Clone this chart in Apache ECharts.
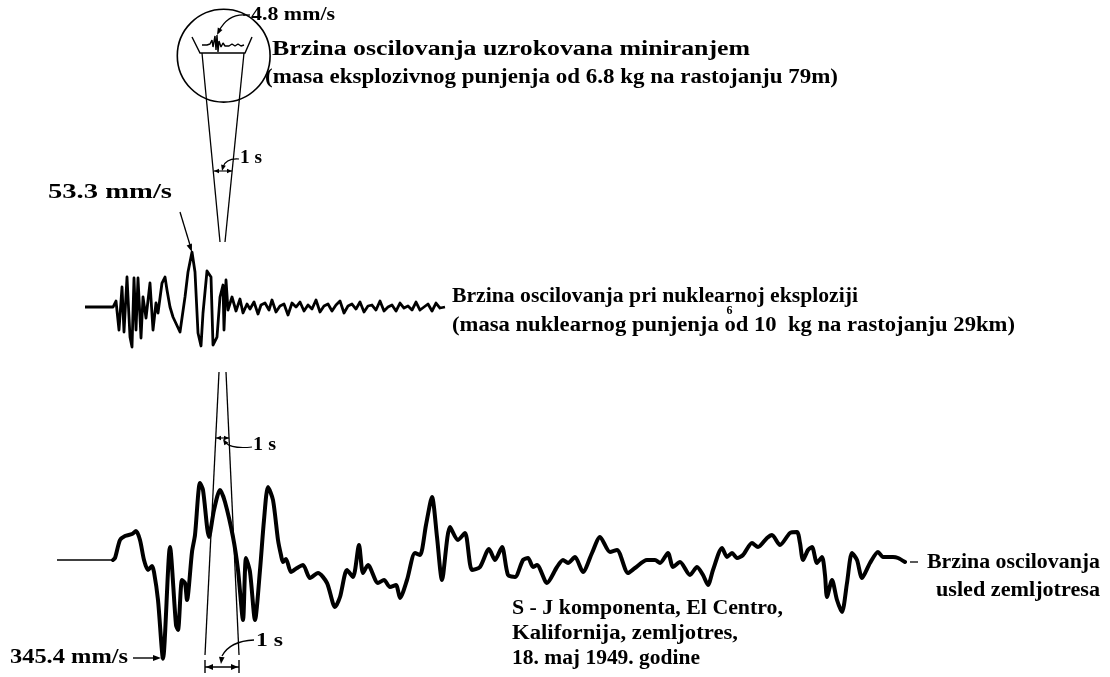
<!DOCTYPE html>
<html><head><meta charset="utf-8">
<script src="https://cdn.jsdelivr.net/npm/echarts@6/dist/echarts.min.js"></script>
<style>html,body{margin:0;padding:0;background:#fff}#c{width:1110px;height:677px}</style>
</head><body><div id="c"></div>
<script>
// ---------- DATA ----------
// Blasting (mining) record, magnified view inside the circle: time (s), velocity (mm/s)
const miningTime = [0, 0.25, 0.40, 0.50, 0.55, 0.65, 0.70, 0.75, 0.80, 0.85, 0.95, 1.05, 1.15, 1.25, 1.35, 1.50, 1.65, 1.80, 1.95, 2.10];
const miningVel  = [0, 0, 0.48, 2.4, -0.96, 4.32, -2.4, 4.8, -3.36, 1.92, -0.96, 0.96, -0.48, 0.48, -0.48, 0.48, -0.48, 0.48, -0.48, 0];

// Nuclear explosion record: time (s), velocity (mm/s)
const nuclearTime = [-5.6, 0, 0.6, 1.2, 1.8, 2.2, 2.8, 3.4, 3.8, 4.2, 4.6, 5.0, 5.6, 6.0, 6.6, 7.4, 8.0, 8.6, 9.0, 9.8, 10.4, 10.8, 11.4, 12.0, 13.4, 14.4, 15.0, 15.8, 16.4, 17.0, 17.6, 18.0, 18.8, 19.6, 20.0, 20.8, 21.4, 22.0, 22.2, 22.6, 23.0, 23.8,
  24.6, 25.4, 26.0, 26.8, 27.4, 28.2, 29.0, 29.6, 30.4, 31.2, 31.8, 32.6, 33.4, 34.2, 35.0, 35.8, 36.6, 37.4, 38.2, 39.0, 39.8, 40.6, 41.4, 42.2, 43.0, 43.8, 44.6, 45.4, 46.2, 47.0, 47.8, 48.6, 49.4, 50.2, 51.0, 51.8, 52.6, 53.4, 54.2, 55.0, 55.8, 56.6, 57.4, 58.2, 59.0, 59.8, 60.6, 61.4, 62.2, 63.0, 63.8, 64.6, 65.4, 66.4];
const nuclearVel = [0, 0, 5.82, -22.31, 19.4, -24.25, 29.1, -29.1, -38.8, 28.13, -22.31, 28.13, -30.07, 9.7, -10.67, 23.28, -22.31, 3.88, -5.82, 23.28, 29.1, 16.49, 0, -9.7, -24.25, 9.7, 33.95, 53.3, 33.95, -25.22, -37.83, -5.82, 34.92, 29.1, -36.86, -29.1, 9.7, 21.34, -22.31, 26.19, -2.91, 9.7,
  -3.88, 7.76, -5.82, 2.91, -1.94, 4.85, -6.79, 1.94, 3.88, -2.91, 6.79, -4.85, 0.97, 2.91, -7.76, 3.88, 0, 4.85, -3.88, 1.94, -1.94, 6.79, -4.85, 0.97, 2.91, -3.88, 1.94, 5.82, -5.82, 0.97, 2.91, -1.94, 4.85, -4.85, 0.97, 1.94, -2.91, 5.82, -3.88, 0, 1.94, -3.88, 3.88, -0.97, 0.97, -2.91, 4.85, -2.91, 0, 2.91, -3.88, 3.88, -0.97, 0];

// El Centro 1949 earthquake, S-J component: time (s), velocity (mm/s)
const quakeTime = [-1.68, 0, 0.06, 0.21, 0.36, 0.57, 0.69, 0.81, 0.93, 1.05, 1.17, 1.23, 1.35, 1.50, 1.71, 1.89, 1.95, 2.07, 2.16, 2.22, 2.37, 2.46, 2.61, 2.70, 2.88, 3.03, 3.21, 3.36, 3.60, 3.75, 3.90, 3.99, 4.11, 4.26, 4.41, 4.53, 4.65, 4.80, 4.95, 5.04, 5.10, 5.19, 5.34, 5.52, 5.70, 5.91, 6.15, 6.42, 6.66, 6.81, 7.02, 7.20, 7.38, 7.50, 7.65, 7.95, 8.13, 8.31, 8.49, 8.61, 8.82, 9.06, 9.21, 9.39, 9.57, 9.72, 9.87, 10.11, 10.35, 10.56, 10.77, 11.01, 11.28, 11.46, 11.67, 11.85, 12.06, 12.30, 12.45, 12.60, 12.72, 13.02, 13.32, 13.50, 13.65, 13.86, 14.10, 14.37, 14.61, 14.91, 15.12, 15.45, 15.66, 16.02, 16.26, 16.41, 16.65, 16.80, 17.01, 17.31, 17.52, 17.70, 17.85, 18.00, 18.27, 18.42, 18.57, 18.72, 18.90, 19.17, 19.35, 19.62, 19.77, 20.01, 20.31, 20.52, 20.61, 20.70, 20.85, 20.97, 21.12, 21.27, 21.36, 21.42, 21.57, 21.72, 21.87, 22.02, 22.17, 22.32, 22.47, 22.71, 22.95, 23.10, 23.40, 23.55, 23.76];
const quakeVel = [0, 0, 7, 70, 84, 91, 101.5, 70, 0, -35, -21, -42, -140, -345.4, 45.5, -227.5, -245, -70, -80.5, -140, 28, 87.5, 269.5, 245, 80.5, 175, 245, 203, 80.5, -35, -210, 7, -42, -210, -35, 140, 255.5, 210, 70, 17.5, -7, 3.5, -42, -28, -17.5, -63, -45.5, -80.5, -164.5, -129.5, -35, -59.5, 52.5, -45.5, -17.5, -80.5, -70, -94.5, -87.5, -133, -70, 24.5, 17.5, 122.5, 220.5, 80.5, -70, 115.5, 70, 94.5, -35, -24.5, 38.5, 0, 45.5, -52.5, -59.5, 0, 7, -24.5, -17.5, -80.5, -24.5, 0, -10.5, 10.5, -42, 24.5, 80.5, 28, 35, -45.5, -28, 0, 0, -10.5, 24.5, -24.5, -7, -52.5, -24.5, -52.5, -87.5, -35, 42, 10.5, 24.5, 7, 17.5, 59.5, 45.5, 77, 87.5, 52.5, 94.5, 98, 59.5, 0, 35, 45.5, -10.5, 10.5, -52.5, -129.5, -70, -140, -182, -80.5, 24.5, 0, -63, -10.5, 28, 10.5, 10.5, 7, -7];

// Texts
const textStrings = [
  '4.8 mm/s',
  'Brzina oscilovanja uzrokovana miniranjem',
  '(masa eksplozivnog punjenja od 6.8 kg na rastojanju 79m)',
  '1 s',
  '53.3 mm/s',
  'Brzina oscilovanja pri nuklearnoj eksploziji',
  '(masa nuklearnog punjenja od 10  kg na rastojanju 29km)',
  '1 s',
  'Brzina oscilovanja',
  'usled zemljotresa',
  'S - J komponenta, El Centro,',
  'Kalifornija, zemljotres,',
  '18. maj 1949. godine',
  '345.4 mm/s',
  '1 s'
];
const superscriptText = '6';
const superscriptAnchor = '(masa nuklearnog punjenja ';
// ---------- LAYOUT ----------
const textLayout = [
  {x:251, y:15, w:84, fs:19},
  {x:272, y:50, w:478, fs:20},
  {x:265, y:78, w:573, fs:20},
  {x:240, y:158, w:22, fs:19},
  {x:48, y:193, w:124, fs:21},
  {x:452, y:297, w:406, fs:20},
  {x:452, y:326, w:563, fs:20},
  {x:253, y:445, w:23, fs:19},
  {x:927, y:563, w:173, fs:20},
  {x:936, y:591, w:164, fs:20},
  {x:512, y:609, w:271, fs:20},
  {x:512, y:634, w:226, fs:20},
  {x:512, y:659, w:188, fs:20},
  {x:10, y:658, w:118, fs:21},
  {x:256, y:641, w:27, fs:19}
];

const FONT_FAMILY = '"Liberation Serif", "Times New Roman", serif';
const mctx = document.createElement('canvas').getContext('2d');
function fontOf(fs){ return 'bold ' + fs + 'px ' + FONT_FAMILY; }
function measure(str, fs){ mctx.font = fontOf(fs); return mctx.measureText(str).width; }
function textEl(str, L) {
  const m = measure(str, L.fs);
  const sx = L.w ? L.w / m : 1;
  return {type:'text', x:L.x, y:L.y, scaleX:sx, z:10,
    style:{text:str, font:fontOf(L.fs), fill:'#000', textAlign:'left', textVerticalAlign:'middle'}};
}
const INK = '#000';
function seg(x1,y1,x2,y2,w){ return {type:'line', shape:{x1,y1,x2,y2}, style:{stroke:INK, lineWidth:w||1.2}, z:5}; }
function head(tx,ty,fx,fy,len,wid){
  len=len||8; wid=wid||3;
  const dx=tx-fx, dy=ty-fy, d=Math.hypot(dx,dy), ux=dx/d, uy=dy/d;
  const bx=tx-ux*len, by=ty-uy*len;
  return {type:'polygon', shape:{points:[[tx,ty],[bx-uy*wid,by+ux*wid],[bx+uy*wid,by-ux*wid]]}, style:{fill:INK}, z:6};
}
function curve(x1,y1,cx,cy,x2,y2,w){ return {type:'bezierCurve', shape:{x1,y1,x2,y2,cpx1:cx,cpy1:cy}, style:{stroke:INK, fill:null, lineWidth:w||1.2}, z:5}; }

const graphics = [];
// circle with magnified blasting record
graphics.push({type:'circle', shape:{cx:223.7, cy:55.7, r:46.4}, style:{stroke:INK, fill:null, lineWidth:1.6}, z:5});
graphics.push({type:'polyline', shape:{points:[[192,37],[200,53],[245,53],[252,37]]}, style:{stroke:INK, lineWidth:1.4, fill:null}, z:5});
// upper funnel
graphics.push(seg(202,53,220,242,1.3), seg(244,53,225,242,1.3));
// 4.8 mm/s leader
graphics.push(seg(243,15,250,15,1.3), curve(245,15,228,14,219,31,1.3), head(217,35,221,27,7,2.6));
// upper 1 s marker
graphics.push(seg(214,171,232,171,1.1), head(214,171,222,171,5,2.2), head(232,171,224,171,5,2.2));
graphics.push(curve(239,159,226,158,223,167,1.2), head(222,171,224,163,6,2.4));
// 53.3 mm/s leader
graphics.push(seg(180,212,190,245,1.3), head(192,252,188,241,8,2.8));
// lower funnel
graphics.push(seg(219,372,205,655,1.3), seg(226,372,239,655,1.3));
// middle 1 s marker
graphics.push(seg(216,438,229,438,1.1), head(216,438,222,438,5,2.2), head(229,438,223,438,5,2.2));
graphics.push(curve(252,447,232,449,226,443,1.2), head(223,439,227,445,6,2.4));
// bottom 1 s marker
graphics.push(seg(205,660,205,673,1.4), seg(239,660,239,673,1.4), seg(205,667,239,667,1.4),
  head(206,667,214,667,7,3), head(238,667,230,667,7,3));
graphics.push(curve(254,640,230,641,222,656,1.3), head(221,664,222,655,7,2.8));
// 345.4 mm/s leader
graphics.push(seg(133,658,153,658,1.4), head(161,658,152,658,8,3));
// small dash before right label
graphics.push(seg(910,562,918,562,1.3));

textStrings.forEach((s,i)=>graphics.push(textEl(s, textLayout[i])));
// misplaced exponent "6" above "od", as in the original figure
(function(){
  const L = textLayout[6];
  const full = measure(textStrings[6], L.fs);
  const part = measure(superscriptAnchor, L.fs);
  const px = L.x + part * (L.w / full) + 2;
  graphics.push({type:'text', x:px, y:L.y - 15, z:10,
    style:{text:superscriptText, font:fontOf(12), fill:'#000', textAlign:'left', textVerticalAlign:'middle'}});
})();

const zip = (a,b)=>a.map((v,i)=>[v,b[i]]);
const hiddenAxis = (gi,min,max)=>({type:'value', gridIndex:gi, min, max, show:false, splitLine:{show:false}});

const option = {
  animation:false,
  backgroundColor:'#fff',
  grid:[
    {left:202, top:35, width:42, height:20},
    {left:85, top:250.30, width:360, height:97.94},
    {left:57, top:470, width:848, height:190}
  ],
  xAxis:[hiddenAxis(0,0,2.1), hiddenAxis(1,-5.6,66.4), hiddenAxis(2,-1.68,23.76)],
  yAxis:[hiddenAxis(0,-4.8,4.8), hiddenAxis(1,-40,55), hiddenAxis(2,-350,315)],
  series:[
    {name:'Miniranje', type:'line', xAxisIndex:0, yAxisIndex:0, data:zip(miningTime,miningVel), showSymbol:false, lineStyle:{color:INK, width:1.4}, silent:true},
    {name:'Nuklearna eksplozija', type:'line', xAxisIndex:1, yAxisIndex:1, data:zip(nuclearTime,nuclearVel), showSymbol:false, lineStyle:{color:INK, width:2.8, join:'round'}, silent:true},
    {name:'Zemljotres - nivo', type:'line', xAxisIndex:2, yAxisIndex:2, data:zip(quakeTime.slice(0,2),quakeVel.slice(0,2)), showSymbol:false, lineStyle:{color:INK, width:1.6}, silent:true},
    {name:'Zemljotres', type:'line', xAxisIndex:2, yAxisIndex:2, data:zip(quakeTime.slice(1),quakeVel.slice(1)), smooth:0.25, showSymbol:false, lineStyle:{color:INK, width:4, join:'round', cap:'round'}, silent:true}
  ],
  graphic:graphics
};
const chart = echarts.init(document.getElementById('c'), null, {renderer:'canvas'});
chart.setOption(option);
</script>
</body></html>
